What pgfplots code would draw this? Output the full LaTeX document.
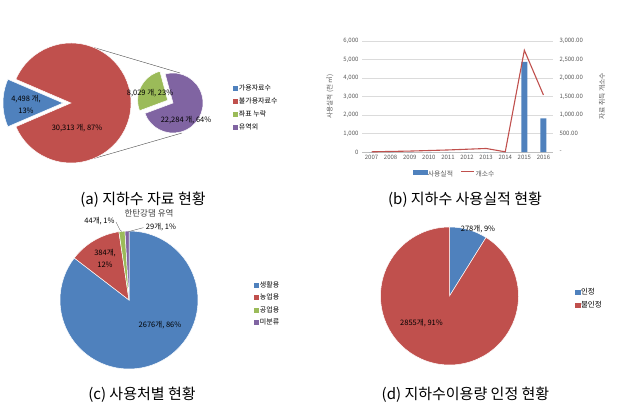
\documentclass[border=0pt]{standalone}
\usepackage{fontspec}
\setmainfont{Noto Sans CJK KR}
\usepackage{pgfplots}
\pgfplotsset{compat=1.18}
\definecolor{cblue}{HTML}{4F81BD}
\definecolor{cred}{HTML}{C0504D}
\definecolor{cgreen}{HTML}{9BBB59}
\definecolor{cpurple}{HTML}{8064A2}
\definecolor{tgray}{HTML}{595959}

% pie drawn from the values: cx, cy, radius, start angle, list value/colour/explode (clockwise)
\newcommand\piechart[5]{%
  \xdef\pietot{0}%
  \foreach \v/\c/\e in {#5}{\xdef\pietot{\fpeval{\pietot+\v}}}%
  \xdef\pieang{\fpeval{#4}}%
  \foreach \v/\c/\e in {#5}{%
    \edef\aA{\pieang}%
    \edef\aB{\fpeval{\pieang-360*\v/\pietot}}%
    \edef\am{\fpeval{(\aA+\aB)/2}}%
    \edef\ox{\fpeval{#1+\e*cosd(\am)}}%
    \edef\oy{\fpeval{#2+\e*sind(\am)}}%
    \edef\sx{\fpeval{\ox+#3*cosd(\aA)}}%
    \edef\sy{\fpeval{\oy+#3*sind(\aA)}}%
    \edef\tmp{\noexpand\fill[\c, draw=white, line width=0.5pt] (axis cs:\ox,\oy) -- (axis cs:\sx,\sy) arc[start angle=\aA, end angle=\aB, radius=#3pt] -- cycle;}%
    \tmp
    \xdef\pieang{\aB}%
  }%
}

\pgfplotsset{
  pielegend/.style={
    legend image code/.code={\fill[##1] (0pt,-1.8pt) rectangle (4.3pt,2.4pt);},
    legend cell align=left,
    legend style={draw=none, fill=none, inner sep=0pt, font=\fontsize{#1}{#1}\selectfont,
      row sep=4.8pt, nodes={inner sep=0.6pt, text height=5.5pt, text depth=1.5pt}, column sep=0.5pt}}
}
\tikzset{pielabel/.style={font=\fontsize{7.5}{12}\selectfont, text=black, align=center, inner sep=0pt}}

\begin{document}
\begin{tikzpicture}
\useasboundingbox (0,0) rectangle (634pt,-409pt);

% ---------------- (a)
\begin{axis}[at={(0pt,-180pt)}, anchor=south west, x=1pt, y=1pt,
  xmin=-71, xmax=245, ymin=-77, ymax=78, hide axis, clip=false,
  pielegend=7, legend style={at={(0.737,0.617)}, anchor=north west}]
\draw[black!70, line width=0.4pt] (axis cs:22.5,55.6) -- (axis cs:109,30);
\draw[black!70, line width=0.4pt] (axis cs:22.5,-55.6) -- (axis cs:111,-30);
\piechart{0}{0}{60}{180+180*4498/34811}{4498/cblue/8, 30313/cred/0}
\piechart{102}{0}{30}{200.4}{8029/cgreen/6, 22284/cpurple/0}
\node[pielabel] at (axis cs:-45,-1) {4,498 개,\\13\%};
\node[pielabel] at (axis cs:6,-25) {30,313 개, 87\%};
\node[pielabel] at (axis cs:79,10) {8,029 개, 23\%};
\node[pielabel] at (axis cs:115,-17) {22,284 개, 64\%};
\addlegendimage{cblue}
\addlegendimage{cred}
\addlegendimage{cgreen}
\addlegendimage{cpurple}
\legend{가용자료수, 불가용자료수, 좌표 누락, 유역외}
\end{axis}

% ---------------- (b) bars
\begin{axis}[at={(362pt,-152pt)}, anchor=south west, scale only axis, width=191pt, height=111pt,
  xmin=-0.5, xmax=9.5, ymin=0, ymax=6000,
  xtick={0,...,9}, xticklabels={2007,2008,2009,2010,2011,2012,2013,2014,2015,2016},
  ytick={0,1000,...,6000}, scaled y ticks=false,
  axis x line*=bottom, axis y line*=left,
  y axis line style={draw=none}, x axis line style={draw=black!25, line width=0.6pt, -},
  ymajorgrids, grid style={draw=black!14, line width=0.5pt},
  major tick length=0pt,
  tick label style={font=\fontsize{6}{7}\selectfont, text=tgray},
  /pgf/number format/assume math mode=true,
  yticklabel style={/pgf/number format/1000 sep={,}},
  ybar, bar width=6pt, clip=false]
\addplot[fill=cblue, draw=none] coordinates {(0,0) (1,0) (2,0) (3,0) (4,0) (5,0) (6,0) (7,0) (8,4870) (9,1820)};
\node[rotate=90, font=\fontsize{6.5}{7}\selectfont, text=tgray] at (rel axis cs:-0.168,0.5) {사용실적 (천 ㎥)};
\end{axis}

% ---------------- (b) line
\begin{axis}[at={(362pt,-152pt)}, anchor=south west, scale only axis, width=191pt, height=111pt,
  xmin=-0.5, xmax=9.5, ymin=0, ymax=3000,
  axis y line*=right, axis x line=none, y axis line style={draw=none},
  ytick={0,500,...,3000},
  yticklabels={{-},{500.00},{1,000.00},{1,500.00},{2,000.00},{2,500.00},{3,000.00}},
  major tick length=0pt,
  tick label style={font=\fontsize{6}{7}\selectfont, text=tgray},
  yticklabel style={anchor=west, xshift=3pt},
  clip=false,
  legend columns=2,
  legend style={at={(0.48,-0.198)}, anchor=center, draw=none, fill=none,
    font=\fontsize{6.8}{7}\selectfont, text=tgray, inner sep=0pt,
    nodes={inner sep=0.5pt}, column sep=0.5pt,
    /tikz/every even column/.append style={column sep=7pt}}]
\addlegendimage{legend image code/.code={\fill[cblue] (-6pt,0.3pt) rectangle (8pt,4pt);}}
\addlegendimage{legend image code/.code={\draw[cred, line width=1pt] (0pt,2.2pt) -- (13pt,2.2pt);}}
\addplot[cred, line width=1.1pt, mark=none, forget plot] coordinates {(0,5) (1,15) (2,25) (3,40) (4,55) (5,75) (6,95) (7,5) (8,2750) (9,1540)};
\legend{사용실적, 개소수}
\node[rotate=90, font=\fontsize{6.8}{7}\selectfont, text=tgray] at (rel axis cs:1.257,0.5) {자료 취득 개소수};
\end{axis}

% ---------------- (c)
\begin{axis}[at={(40pt,-385pt)}, anchor=south west, x=1pt, y=1pt,
  xmin=-89, xmax=191, ymin=-85, ymax=95, hide axis, clip=false,
  pielegend=7, legend style={at={(0.764,0.578)}, anchor=north west, row sep=4.3pt}]
\piechart{0}{0}{69}{90}{2676/cblue/0, 384/cred/0, 44/cgreen/0, 29/cpurple/0}
\node[pielabel] at (axis cs:31,-25) {2676개, 86\%};
\node[pielabel] at (axis cs:-24,41.5) {384개,\\12\%};
\node[pielabel] at (axis cs:-29.5,79) {44개, 1\%};
\node[pielabel] at (axis cs:32,73) {29개, 1\%};
\draw[black!60, line width=0.4pt] (axis cs:-13,78) -- (axis cs:-9,70) -- (axis cs:-7.2,68.6);
\draw[black!60, line width=0.4pt] (axis cs:-0.7,68.3) -- (axis cs:14.3,72.3);
\node[font=\fontsize{8.5}{9}\selectfont, text=black!75, inner sep=0pt] at (axis cs:20,87) {한탄강댐 유역};
\addlegendimage{cblue}
\addlegendimage{cred}
\addlegendimage{cgreen}
\addlegendimage{cpurple}
\legend{생활용, 농업용, 공업용, 미분류}
\end{axis}

% ---------------- (d)
\begin{axis}[at={(330pt,-385pt)}, anchor=south west, x=1pt, y=1pt,
  xmin=-119.5, xmax=184.5, ymin=-89, ymax=91, hide axis, clip=false,
  pielegend=7.5, legend style={at={(0.806,0.539)}, anchor=north west, row sep=5.1pt}]
\piechart{0}{0}{69}{90}{278/cblue/0, 2855/cred/0}
\node[pielabel] at (axis cs:28.5,67) {278개, 9\%};
\node[pielabel] at (axis cs:-28,-27) {2855개, 91\%};
\addlegendimage{cblue}
\addlegendimage{cred}
\legend{인정, 불인정}
\end{axis}

% ---------------- captions
\node[font=\fontsize{15}{16}\selectfont, inner sep=0pt] at (143pt,-200pt) {(a) 지하수 자료 현황};
\node[font=\fontsize{15}{16}\selectfont, inner sep=0pt] at (465pt,-200pt) {(b) 지하수 사용실적 현황};
\node[font=\fontsize{15}{16}\selectfont, inner sep=0pt] at (142pt,-395pt) {(c) 사용처별 현황};
\node[font=\fontsize{15}{16}\selectfont, inner sep=0pt] at (465.5pt,-395pt) {(d) 지하수이용량 인정 현황};
\end{tikzpicture}
\end{document}
